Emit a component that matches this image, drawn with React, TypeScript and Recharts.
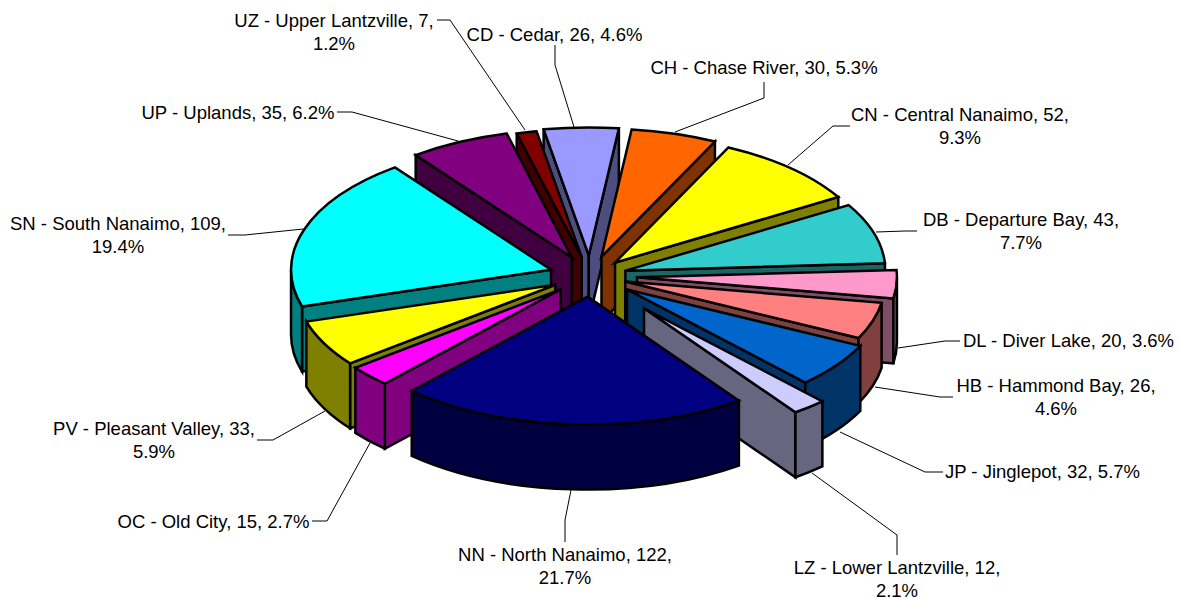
import React from 'react'
import { PieChart, Pie } from 'recharts'

const CODES = ['CD', 'CH', 'CN', 'DB', 'DL', 'HB', 'JP', 'LZ', 'NN', 'OC', 'PV', 'SN', 'UP', 'UZ']
const NAMES = [
  'Cedar', 'Chase River', 'Central Nanaimo', 'Departure Bay', 'Diver Lake', 'Hammond Bay', 'Jinglepot',
  'Lower Lantzville', 'North Nanaimo', 'Old City', 'Pleasant Valley', 'South Nanaimo', 'Uplands', 'Upper Lantzville',
]
const VALUES = [26, 30, 52, 43, 20, 26, 32, 12, 122, 15, 33, 109, 35, 7]

const TOP_COLORS = [
  '#9999FF', '#FF6600', '#FFFF00', '#33CCCC', '#FF99CC', '#FF8080', '#0066CC',
  '#CCCCFF', '#000080', '#FF00FF', '#FFFF00', '#00FFFF', '#800080', '#800000',
]
const WALL_COLORS = [
  '#4D4D80', '#803300', '#808000', '#1A6666', '#804D66', '#804040', '#003366',
  '#666680', '#000040', '#800080', '#808000', '#008080', '#400040', '#400000',
]

// how far each slice is pulled out of the pie
const EXPLODE = [42, 41, 37, 37, 47, 37, 46, 85, 42, 40, 39, 41, 42, 39]

// back to front, the slices have to be painted in this order
const DRAW_ORDER = [0, 13, 1, 12, 2, 3, 11, 4, 5, 10, 6, 9, 7, 8]

const CX = 590
const CY = 276
const RADIUS = 260
const SQUASH = 0.492
const DEPTH = 65
const FIRST_ANGLE = -10

// label text centre and leader line, in index order
const LABELS = [
  { x: 554.5, y: 34, wrap: false, line: '555,45 555,65 574,127' },
  { x: 764, y: 67, wrap: false, line: '764,82 764,98 675,132' },
  { x: 960, y: 114, wrap: true, line: '850,126 833,126 788,165' },
  { x: 1021, y: 219, wrap: true, line: '917,231 905,231 876,232' },
  { x: 1068.5, y: 340, wrap: false, line: '960,341 945,341 898,348' },
  { x: 1056, y: 385, wrap: true, line: '953,397 940,397 875,387' },
  { x: 1042.5, y: 471, wrap: false, line: '943,472 925,472 840,432' },
  { x: 897, y: 567, wrap: true, line: '897,555 897,535 812,473' },
  { x: 565, y: 554, wrap: true, line: '565,542 565,520 571,490' },
  { x: 213.5, y: 521, wrap: false, line: '312,521 327,521 370,443' },
  { x: 154, y: 428, wrap: true, line: '257,440 273,440 325,411' },
  { x: 118, y: 223, wrap: true, line: '228,235 245,235 303,229' },
  { x: 238, y: 112, wrap: false, line: '337,112 352,112 458,141' },
  { x: 334, y: 20, wrap: true, line: '437,20 450,20 525,130' },
]

const data = CODES.map((code, i) => ({ code, name: NAMES[i], value: VALUES[i] }))

const rad = (deg: number) => (deg * Math.PI) / 180

function Slice3D(props: any) {
  const { cx, cy, outerRadius: r, startAngle, endAngle, index } = props
  // clockwise from twelve o'clock
  const s = 90 - startAngle
  const e = 90 - endAngle
  const mid = (s + e) / 2
  const ax = cx + EXPLODE[index] * Math.sin(rad(mid))
  const ay = cy - EXPLODE[index] * Math.cos(rad(mid)) * SQUASH
  const ry = r * SQUASH
  const px = (a: number) => ax + r * Math.sin(rad(a))
  const py = (a: number) => ay - ry * Math.cos(rad(a))
  const arc = (a: number, sweep: number, big: number, dy = 0) =>
    `A${r} ${ry} 0 ${big} ${sweep} ${px(a)} ${py(a) + dy}`

  const top = `M${ax} ${ay}L${px(s)} ${py(s)}${arc(e, 1, e - s > 180 ? 1 : 0)}Z`
  const radial = (a: number) =>
    `M${ax} ${ay}L${px(a)} ${py(a)}l0 ${DEPTH}L${ax} ${ay + DEPTH}Z`

  // a radial face shows when its outward normal points down the screen
  const showStart = Math.cos(rad(s - 90)) < 0
  const showEnd = Math.cos(rad(e + 90)) < 0

  const from = Math.max(s, 90)
  const to = Math.min(e, 270)
  const rim =
    to > from
      ? `M${px(from)} ${py(from)}${arc(to, 1, 0)}l0 ${DEPTH}${arc(from, 0, 0, DEPTH)}Z`
      : null

  const wall = { fill: WALL_COLORS[index], stroke: '#000', strokeWidth: 2.5 }
  return (
    <g>
      {showStart && <path d={radial(s)} {...wall} />}
      {showEnd && <path d={radial(e)} {...wall} />}
      {rim && <path d={rim} {...wall} />}
      <path d={top} fill={TOP_COLORS[index]} stroke="#000" strokeWidth={2.5} />
    </g>
  )
}

function renderLabel(props: any) {
  const { index, value, percent } = props
  const l = LABELS[index]
  const pct = `${(percent * 100).toFixed(1)}%`
  const head = `${CODES[index]} - ${NAMES[index]}, ${value},`
  const common = { textAnchor: 'middle' as const, fontFamily: 'Liberation Sans', fontSize: 18.5, fill: '#000' }
  return (
    <g key={index}>
      <polyline points={l.line} fill="none" stroke="#000" strokeWidth={1} />
      {l.wrap ? (
        <>
          <text x={l.x} y={l.y + 7} {...common}>{head}</text>
          <text x={l.x} y={l.y + 30} {...common}>{pct}</text>
        </>
      ) : (
        <text x={l.x} y={l.y + 7} {...common}>{`${head} ${pct}`}</text>
      )}
    </g>
  )
}

export default function App() {
  return (
    <div style={{ position: 'absolute', left: 0, top: 0, width: 1180, height: 598, background: '#fff' }}>
      <PieChart width={1180} height={598} margin={{ top: 0, right: 0, bottom: 0, left: 0 }}>
        {DRAW_ORDER.map((idx, n) => (
          <Pie
            key={idx}
            data={data}
            dataKey="value"
            cx={CX}
            cy={CY}
            outerRadius={RADIUS}
            startAngle={90 - FIRST_ANGLE}
            endAngle={90 - FIRST_ANGLE - 360}
            isAnimationActive={false}
            label={n === DRAW_ORDER.length - 1 ? renderLabel : false}
            labelLine={false}
            shape={(p: any) => (p.index === idx ? <Slice3D {...p} /> : <g />)}
          />
        ))}
      </PieChart>
    </div>
  )
}
